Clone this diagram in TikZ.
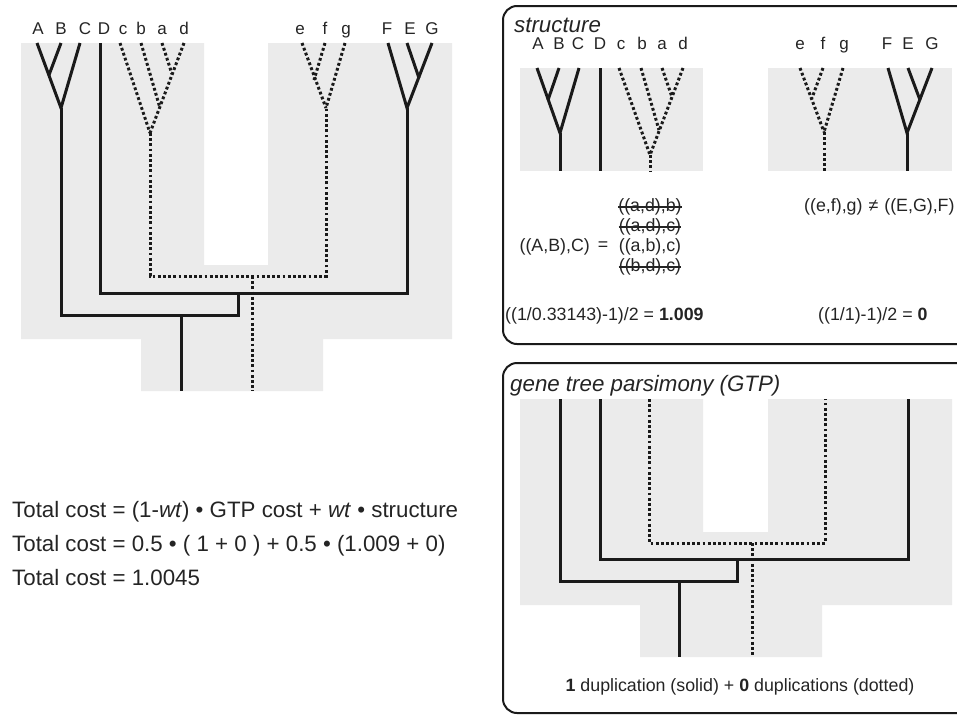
\documentclass[tikz,border=0pt]{standalone}
\usepackage{fontspec}
\setmainfont{Liberation Sans}
\definecolor{bgc}{HTML}{EBEBEB}
\definecolor{linec}{HTML}{1A1A1A}
\definecolor{txtc}{HTML}{242424}
\begin{document}
\begin{tikzpicture}[x=1pt,y=-1pt,
  sol/.style={line width=3pt, draw=linec, line join=miter},
  dotl/.style={line width=3pt, draw=linec, dash pattern=on 2.8pt off 2.4pt},
  grey/.style={fill=bgc, draw=none},
  lab/.style={text=txtc, font=\fontsize{17}{20}\selectfont, inner sep=0pt, anchor=base},
  big/.style={text=txtc, font=\fontsize{22.3}{26}\selectfont, inner sep=0pt, anchor=base west},
  ttl/.style={text=txtc, font=\fontsize{22.3}{26}\selectfont\itshape, inner sep=0pt, anchor=base west},
  mid/.style={text=txtc, font=\fontsize{17.8}{21}\selectfont, inner sep=0pt},
  strk/.style={line width=1.2pt, draw=txtc},
  frame/.style={line width=2pt, draw=linec, rounded corners=14pt}
]
\useasboundingbox (0,0) rectangle (957,718);

% ---------------- main tree ----------------
\fill[grey] (21,43) -- (204,43) -- (204,265) -- (268,265) -- (268,43) -- (452,43)
  -- (452,339) -- (323,339) -- (323,391) -- (141,391) -- (141,339) -- (21,339) -- cycle;

\foreach \n/\x in {A/38,B/61,C/85,D/104,c/123,b/141,a/162,d/184,e/300,f/325,g/346,F/387,E/410,G/432}
  \node[lab] (mlab\n) at (\x,34.5) {\n};

\coordinate (mA) at (37,43);  \coordinate (mB) at (61,43);  \coordinate (mC) at (80,43);
\coordinate (mAB) at (49,75); \coordinate (mABC) at (61,108);
\coordinate (mD) at (100,43);
\coordinate (mc) at (120,43); \coordinate (mb) at (141,43); \coordinate (ma) at (162,43); \coordinate (md) at (184,43);
\coordinate (mad) at (172,74); \coordinate (mbad) at (160,108); \coordinate (mcbad) at (150,133);
\coordinate (me) at (302,43); \coordinate (mf) at (325,43); \coordinate (mg) at (345,43);
\coordinate (mef) at (314,80); \coordinate (mefg) at (326,108);
\coordinate (mF) at (388,43); \coordinate (mE) at (407,43); \coordinate (mG) at (432,43);
\coordinate (mEG) at (419,78); \coordinate (mFEG) at (407,108);
\coordinate (mL1) at (61,315); \coordinate (mJ1) at (238,315); \coordinate (mJ2) at (238,293);
\coordinate (mDb) at (100,293); \coordinate (mFb) at (407,293);
\coordinate (mRt) at (181,315); \coordinate (mRb) at (181,391);
\coordinate (mcb) at (150,276); \coordinate (meb) at (326,276);
\coordinate (mdt) at (252,276); \coordinate (mdb) at (252,391);

\draw[sol] (mA) -- (mABC) -- (mC);
\draw[sol] (mB) -- (mAB);
\draw[sol] (mABC) -- (mL1) -- (mJ1) -- (mJ2);
\draw[sol] (mD) -- (mDb) -- (mFb) -- (mFEG);
\draw[sol] (mF) -- (mFEG) -- (mG);
\draw[sol] (mE) -- (mEG);
\draw[sol] (mRt) -- (mRb);
\draw[dotl] (mc) -- (mcbad);
\draw[dotl] (md) -- (mcbad);
\draw[dotl] (ma) -- (mad);
\draw[dotl] (mb) -- (mbad);
\draw[dotl] (mcbad) -- (mcb) -- (meb) -- (mefg);
\draw[dotl] (me) -- (mefg);
\draw[dotl] (mg) -- (mefg);
\draw[dotl] (mf) -- (mef);
\draw[dotl] (mdt) -- (mdb);

% ---------------- total cost ----------------
\node[big] (tc1) at (12,517) {Total cost = (1-\textit{wt}) • GTP cost + \textit{wt} • structure};
\node[big] (tc2) at (12,551) {Total cost = 0.5 • ( 1 + 0 ) + 0.5 • (1.009 + 0)};
\node[big] (tc3) at (12,585) {Total cost = 1.0045};

% ---------------- structure box ----------------
\draw[frame] (990,6) rectangle (503,344);
\node[ttl] (stitle) at (514,32) {structure};
\fill[grey] (520,68) rectangle (703,171);
\fill[grey] (768,68) rectangle (952,171);

\foreach \n/\x in {A/538,B/559,C/578,D/600,c/621,b/642,a/662,d/683,e/800,f/823,g/844,F/887,E/908,G/932}
  \node[lab] (slab\n) at (\x,49) {\n};

\coordinate (sA) at (537,68); \coordinate (sB) at (559,68); \coordinate (sC) at (579,68);
\coordinate (sAB) at (548,100); \coordinate (sABC) at (560,133); \coordinate (sABCb) at (560,171);
\coordinate (sD) at (600,68); \coordinate (sDb) at (600,171);
\coordinate (sc) at (619,68); \coordinate (sb) at (641,68); \coordinate (sa) at (662,68); \coordinate (sd) at (683,68);
\coordinate (sad) at (672,97); \coordinate (sbad) at (659,130); \coordinate (scbad) at (650,155); \coordinate (scbadb) at (650,171);
\coordinate (se) at (800,68); \coordinate (sf) at (823,68); \coordinate (sg) at (843,68);
\coordinate (sef) at (812,98); \coordinate (sefg) at (824,132); \coordinate (sefgb) at (824,171);
\coordinate (sF) at (888,68); \coordinate (sE) at (908,68); \coordinate (sG) at (932,68);
\coordinate (sEG) at (920,100); \coordinate (sFEG) at (907,133); \coordinate (sFEGb) at (907,171);

\draw[sol] (sA) -- (sABC) -- (sC);
\draw[sol] (sB) -- (sAB);
\draw[sol] (sABC) -- (sABCb);
\draw[sol] (sD) -- (sDb);
\draw[dotl] (sc) -- (scbad);
\draw[dotl] (sd) -- (scbad);
\draw[dotl] (sa) -- (sad);
\draw[dotl] (sb) -- (sbad);
\draw[dotl] (scbad) -- (scbadb);
\draw[dotl] (se) -- (sefg);
\draw[dotl] (sg) -- (sefg);
\draw[dotl] (sf) -- (sef);
\draw[dotl] (sefg) -- (sefgb);
\draw[sol] (sF) -- (sFEG) -- (sG);
\draw[sol] (sE) -- (sEG);
\draw[sol] (sFEG) -- (sFEGb);

\node[mid, anchor=east] (sABCt) at (590,247) {((A,B),C)};
\node[mid] (seq) at (603,246) {=};
\node[mid] (s1) at (650,207) {((a,d),b)};
\node[mid] (s2) at (650,227) {((a,d),c)};
\node[mid] (s3) at (650,247) {((a,b),c)};
\node[mid] (s4) at (650,267) {((b,d),c)};
\draw[strk] (s1.west) -- (s1.east);
\draw[strk] (s2.west) -- (s2.east);
\draw[strk] (s4.west) -- (s4.east);
\node[mid, anchor=west] (sneq) at (804,207) {((e,f),g)\hspace{6pt}≠\hspace{6pt}((E,G),F)};
\node[mid, anchor=west] (scost1) at (505,316) {((1/0.33143)-1)/2 = \textbf{1.009}};
\node[mid, anchor=west] (scost2) at (818,316) {((1/1)-1)/2 = \textbf{0}};

% ---------------- GTP box ----------------
\draw[frame] (990,363) rectangle (503,713);
\node[ttl] (gtitle) at (510,391) {gene tree parsimony (GTP)};
\fill[grey] (520,399) -- (703,399) -- (703,532) -- (768,532) -- (768,399) -- (952,399)
  -- (952,605) -- (822,605) -- (822,657) -- (640,657) -- (640,605) -- (520,605) -- cycle;

\coordinate (g1t) at (560,399); \coordinate (g1b) at (560,581);
\coordinate (g2t) at (600,399); \coordinate (g2b) at (600,559);
\coordinate (g3t) at (649,399); \coordinate (g3b) at (649,543);
\coordinate (g4t) at (825,399); \coordinate (g4b) at (825,543);
\coordinate (g5t) at (908,399); \coordinate (g5b) at (908,559);
\coordinate (gj2) at (737,559); \coordinate (gj1) at (737,581);
\coordinate (grt) at (679,581); \coordinate (grb) at (679,657);
\coordinate (gdt) at (752,543); \coordinate (gdb) at (752,657);

\draw[sol] (g2t) -- (g2b) -- (g5b) -- (g5t);
\draw[sol] (g1t) -- (g1b) -- (gj1) -- (gj2);
\draw[sol] (grt) -- (grb);
\draw[dotl] (g3t) -- (g3b) -- (g4b) -- (g4t);
\draw[dotl] (gdt) -- (gdb);

\node[mid] (gdup) at (740,687) {\textbf{1} duplication (solid) + \textbf{0} duplications (dotted)};
\end{tikzpicture}
\end{document}
